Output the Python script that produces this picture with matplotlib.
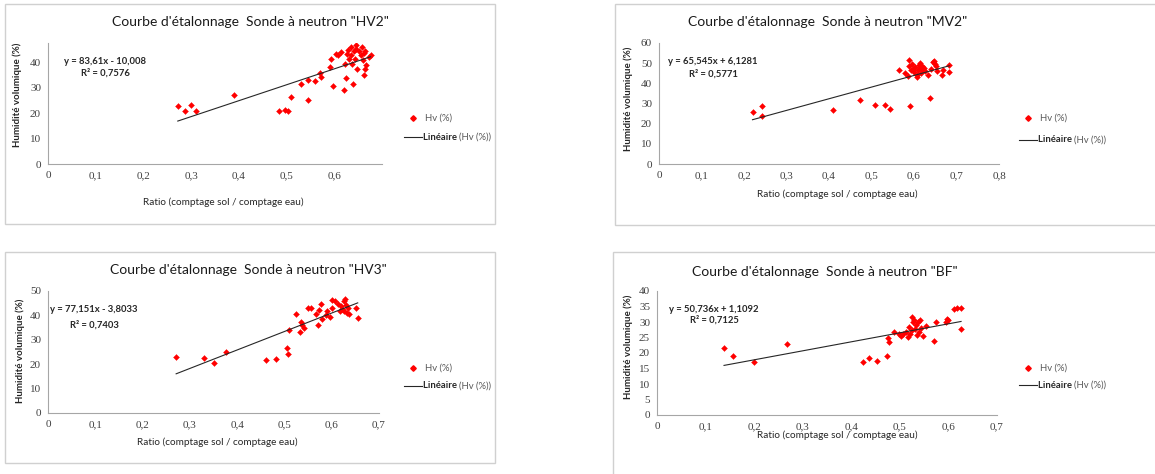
"""Courbes d'etalonnage sonde a neutron - 4 sites (HV2, MV2, HV3, BF)."""

import numpy as np
import matplotlib
matplotlib.use("Agg")
import matplotlib.pyplot as plt
from matplotlib.patches import Rectangle
from matplotlib.lines import Line2D
from matplotlib.ticker import FuncFormatter

W, H = 1155, 474

# --- data (ratio, Hv %) ---
hv2_x = [0.272, 0.287, 0.300, 0.310, 0.390, 0.484, 0.496, 0.504, 0.510, 0.530,
         0.544, 0.544, 0.560, 0.571, 0.573, 0.592, 0.594, 0.597, 0.603, 0.608,
         0.615, 0.620, 0.622, 0.624, 0.627, 0.629, 0.631, 0.634, 0.636, 0.638,
         0.639, 0.641, 0.643, 0.645, 0.646, 0.648, 0.652, 0.655, 0.659, 0.661,
         0.662, 0.662, 0.664, 0.665, 0.667, 0.672, 0.676]
hv2_y = [22.7, 20.9, 23.0, 20.9, 27.0, 21.0, 21.3, 20.8, 26.2, 31.3,
         25.3, 32.9, 32.5, 35.7, 34.2, 38.1, 41.4, 30.8, 43.0, 42.6,
         43.8, 29.0, 39.4, 33.8, 43.2, 44.8, 41.3, 45.8, 42.9, 39.4,
         31.6, 44.2, 41.3, 45.2, 46.9, 37.4, 44.5, 42.6, 45.8, 40.9,
         43.5, 35.1, 37.4, 44.5, 38.7, 41.9, 42.9]

mv2_x = [0.220, 0.242, 0.243, 0.410, 0.473, 0.508, 0.532, 0.544, 0.565, 0.578,
         0.586, 0.588, 0.589, 0.590, 0.592, 0.595, 0.598, 0.600, 0.603, 0.606,
         0.608, 0.610, 0.612, 0.613, 0.615, 0.617, 0.619, 0.621, 0.623, 0.625,
         0.632, 0.638, 0.640, 0.645, 0.647, 0.649, 0.652, 0.655, 0.665, 0.668,
         0.683, 0.683]
mv2_y = [25.8, 29.0, 23.6, 26.6, 31.9, 29.1, 29.1, 27.4, 46.8, 45.0,
         43.6, 48.5, 51.5, 29.0, 46.5, 49.5, 47.0, 45.5, 48.0, 44.0,
         43.0, 46.5, 49.0, 47.5, 50.0, 45.0, 48.5, 46.5, 47.8, 46.0,
         44.0, 32.5, 47.0, 50.5, 51.0, 49.5, 48.5, 46.0, 44.0, 46.5,
         49.0, 45.5]

hv3_x = [0.271, 0.329, 0.350, 0.376, 0.462, 0.483, 0.506, 0.507, 0.509, 0.524,
         0.532, 0.536, 0.538, 0.541, 0.550, 0.556, 0.566, 0.570, 0.573, 0.578,
         0.580, 0.587, 0.591, 0.596, 0.601, 0.601, 0.608, 0.613, 0.617, 0.619,
         0.622, 0.626, 0.627, 0.629, 0.631, 0.633, 0.634, 0.636, 0.652, 0.655]
hv3_y = [22.9, 22.7, 20.4, 24.9, 21.8, 22.1, 26.6, 24.1, 33.9, 40.5,
         33.4, 37.5, 36.1, 35.0, 43.2, 42.9, 40.5, 36.1, 42.1, 44.7,
         38.6, 40.2, 41.6, 39.2, 46.3, 42.9, 45.9, 44.6, 41.6, 43.9,
         42.5, 45.9, 41.8, 46.7, 44.3, 41.1, 42.9, 40.6, 42.9, 38.8]

bf_x = [0.138, 0.157, 0.199, 0.268, 0.425, 0.437, 0.452, 0.474, 0.476, 0.478,
        0.488, 0.499, 0.502, 0.506, 0.512, 0.516, 0.519, 0.521, 0.524, 0.526,
        0.528, 0.530, 0.532, 0.533, 0.535, 0.538, 0.540, 0.542, 0.543, 0.547,
        0.554, 0.571, 0.574, 0.595, 0.597, 0.600, 0.612, 0.617, 0.626, 0.626]
bf_y = [21.5, 19.0, 17.0, 22.8, 17.0, 18.3, 17.4, 19.0, 24.7, 23.7,
        26.7, 26.0, 25.6, 26.0, 26.7, 25.3, 28.5, 26.0, 31.7, 27.4,
        29.9, 30.6, 27.7, 29.0, 25.8, 29.9, 26.7, 30.6, 28.0, 25.6,
        28.8, 23.9, 29.9, 30.1, 31.0, 30.6, 34.1, 34.4, 34.6, 27.7]

names = ["HV2", "MV2", "HV3", "BF"]
equations = ["y = 83,61x - 10,008", "y = 65,545x + 6,1281",
             "y = 77,151x - 3,8033", "y = 50,736x + 1,1092"]
r2_labels = ["R² = 0,7576", "R² = 0,5771", "R² = 0,7403", "R² = 0,7125"]

# --- layout in pixels (left, top, right, bottom) ---
axes_px = [(48, 43, 382, 164), (659, 43, 999, 164),
           (48, 291, 379, 413), (657, 291, 997, 415)]
frames_px = [(5, 4, 495, 224), (615, 4, 1156, 225),
             (5, 252, 495, 463), (613, 252, 1156, 476)]
xlims = [0.7, 0.8, 0.7, 0.7]
xticks = [np.arange(0, 0.61, 0.1), np.arange(0, 0.81, 0.1),
          np.arange(0, 0.71, 0.1), np.arange(0, 0.71, 0.1)]
ylims = [47.5, 60, 50, 40]
ysteps = [10, 10, 10, 5]
yticks_max = [40, 60, 50, 40]
title_pos = [(250, 22), (828, 22), (248, 270), (825, 272)]
eq_pos = [(105, 62, 73), (713, 62, 74), (94, 310, 325), (714, 309, 320)]
xlab_pos = [(223, 202), (837, 194), (217, 442), (837, 435)]
ylab_pos = [(17, 95), (628, 99), (20, 351), (628, 347)]
leg_pos = [(413, 118, 137), (1028, 118, 140), (413, 368, 386), (1028, 368, 385)]

RED = "#ff0000"
GREY = "#595959"
SPINE = "#a6a6a6"


def fx(x):
    return x / W


def fy(y):
    return 1 - y / H


comma = FuncFormatter(lambda v, p: f"{v:g}".replace(".", ","))

fig = plt.figure(figsize=(W / 100, H / 100), dpi=100)
fig.patch.set_facecolor("white")

series = [(hv2_x, hv2_y), (mv2_x, mv2_y), (hv3_x, hv3_y), (bf_x, bf_y)]

for i, (xs, ys) in enumerate(series):
    xs = np.array(xs)
    ys = np.array(ys)

    l, t, r, b = frames_px[i]
    fig.add_artist(Rectangle((fx(l), fy(b)), fx(r - l), (b - t) / H,
                             transform=fig.transFigure, fill=False,
                             edgecolor="#d0d0d0", lw=1.0))

    l, t, r, b = axes_px[i]
    ax = fig.add_axes([fx(l), fy(b), fx(r - l), (b - t) / H])
    ax.scatter(xs, ys, marker="D", s=9, color=RED, edgecolors=RED,
               linewidths=0.3, zorder=3)

    # linear trendline fitted to the points
    a, c = np.polyfit(xs, ys, 1)
    xl = np.array([xs.min(), xs.max()])
    ax.plot(xl, a * xl + c, color="#262626", lw=0.8, zorder=4)

    ax.set_xlim(0, xlims[i])
    ax.set_ylim(0, ylims[i])
    ax.set_xticks(xticks[i])
    ax.set_yticks(np.arange(0, yticks_max[i] + 0.1, ysteps[i]))
    ax.xaxis.set_major_formatter(comma)
    ax.yaxis.set_major_formatter(comma)
    for s in ["top", "right"]:
        ax.spines[s].set_visible(False)
    for s in ["left", "bottom"]:
        ax.spines[s].set_color(SPINE)
        ax.spines[s].set_linewidth(0.8)
    ax.tick_params(length=0, pad=5, labelsize=8, colors="#404040",
                   labelfontfamily="Liberation Serif")
    ax.set_facecolor("none")

    tx, ty = title_pos[i]
    fig.text(fx(tx), fy(ty), f'Courbe d\'étalonnage  Sonde à neutron "{names[i]}"',
             ha="center", va="center", fontsize=10, family="Lato", color="#1a1a1a")

    ex, ey1, ey2 = eq_pos[i]
    fig.text(fx(ex), fy(ey1), equations[i], ha="center", va="center",
             fontsize=6.8, family="Lato", weight="bold", color="#262626")
    fig.text(fx(ex), fy(ey2), r2_labels[i], ha="center", va="center",
             fontsize=6.8, family="Lato", weight="bold", color="#262626")

    xx, xy = xlab_pos[i]
    fig.text(fx(xx), fy(xy), "Ratio (comptage sol / comptage eau)",
             ha="center", va="center", fontsize=7.2, family="Lato", color="#262626")
    yx, yy = ylab_pos[i]
    fig.text(fx(yx), fy(yy), "Humidité volumique (%)", rotation=90,
             ha="center", va="center", fontsize=7, family="Lato",
             weight="bold", color="#262626")

    # legend drawn by hand
    mx, my, ly = leg_pos[i]
    fig.add_artist(Line2D([fx(mx)], [fy(my)], marker="D", ms=2.8, color=RED,
                          transform=fig.transFigure))
    fig.text(fx(mx + 12), fy(my), "Hv (%)", ha="left", va="center",
             fontsize=6.8, family="Lato", color=GREY)
    fig.add_artist(Line2D([fx(mx - 9), fx(mx + 9)], [fy(ly), fy(ly)],
                          color="#262626", lw=0.8, transform=fig.transFigure))
    t1 = fig.text(fx(mx + 10), fy(ly), "Linéaire ", ha="left", va="center",
                  fontsize=6.8, family="Lato", weight="bold", color="#262626")
    ax.annotate("(Hv (%))", xy=(1, 0.5), xycoords=t1, ha="left", va="center",
                fontsize=6.8, family="Lato", color=GREY, annotation_clip=False)

fig.savefig("out.png", dpi=100, facecolor="white")
